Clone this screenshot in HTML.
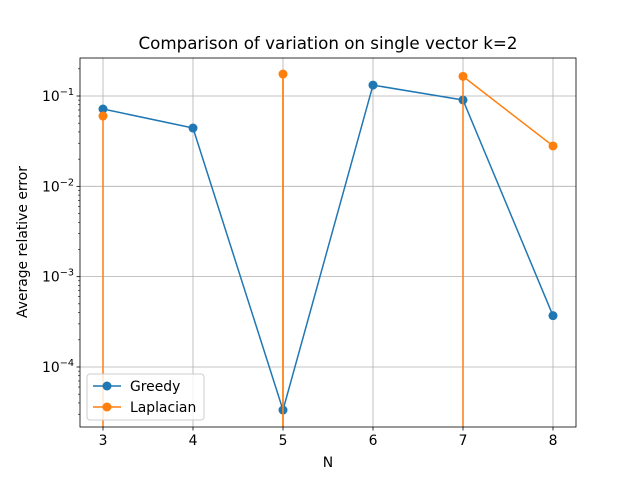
<!DOCTYPE html>
<html><head><meta charset="utf-8"><style>
html,body{margin:0;background:#fff;overflow:hidden;width:640px;height:480px;}
svg{font-family:"DejaVu Sans","Liberation Sans",sans-serif;display:block;}
</style></head><body>
<svg id="chart" width="640" height="480" viewBox="0 0 640 480">
<defs><clipPath id="clip"><rect x="80" y="58" width="496" height="369"/></clipPath></defs>
<rect width="640" height="480" fill="#fff"/>
<g id="grid"></g>
<g id="series" clip-path="url(#clip)"></g>
<g id="axes"></g>
<text x="328" y="49" font-size="16.7" text-anchor="middle">Comparison of variation on single vector k=2</text>
<text x="328" y="467" font-size="13.9" text-anchor="middle">N</text>
<text x="27" y="242" font-size="13.9" text-anchor="middle" transform="rotate(-90 27 242)">Average relative error</text>
<g>
<rect x="87" y="374" width="117" height="46" rx="3" fill="#fff" fill-opacity="0.8" stroke="#ccc"/>
<g>
<line x1="93" y1="386" x2="121" y2="386" stroke="#1f77b4" stroke-width="1.5"/><circle cx="107" cy="386" r="4.5" fill="#1f77b4"/>
<text x="130" y="391" font-size="13.9">Greedy</text></g>
<g>
<line x1="93" y1="407" x2="121" y2="407" stroke="#ff7f0e" stroke-width="1.5"/><circle cx="107" cy="407" r="4.5" fill="#ff7f0e"/>
<text x="130" y="412" font-size="13.9">Laplacian</text></g>
</g>
</svg>
<script>
const categories=[3,4,5,6,7,8];
const greedy=[0.0718,0.0442,3.34e-5,0.132,0.0903,3.7e-4];
const laplacian=[0.06,0,0.175,0,0.165,0.028];
const xTicks=[3,4,5,6,7,8];
const yTickExps=[-4,-3,-2,-1];
const NS="http://www.w3.org/2000/svg";
const L=80,R=576,T=58,B=427;
function xs(v){return 103+(v-3)*90;}
function ys(v){return 96-(Math.log10(v)+1)*90.33;}
function mk(tag,attrs,parent){const e=document.createElementNS(NS,tag);for(const k in attrs)e.setAttribute(k,attrs[k]);parent.appendChild(e);return e;}
const grid=document.getElementById('grid'),axes=document.getElementById('axes'),series=document.getElementById('series');
xTicks.forEach(t=>{const x=xs(t);
 const g=mk('line',{x1:x,x2:x,y1:T,y2:B,stroke:'#b0b0b0','stroke-width':0.8},grid);
 
 
 mk('line',{x1:x,x2:x,y1:B,y2:B+3.5,stroke:'#000','stroke-width':0.8},axes);
 const tx=mk('text',{x:x,y:B+18,'font-size':13.9,'text-anchor':'middle'},axes);tx.textContent=t;
 
 
});
yTickExps.forEach(e=>{const y=ys(Math.pow(10,e));
 const g=mk('line',{x1:L,x2:R,y1:y,y2:y,stroke:'#b0b0b0','stroke-width':0.8},grid);
 
 
 mk('line',{x1:L-3.5,x2:L,y1:y,y2:y,stroke:'#000','stroke-width':0.8},axes);
 const tx=mk('text',{x:L-6,y:y+5,'font-size':13.9,'text-anchor':'end'},axes);
 
 
 tx.appendChild(document.createTextNode('10'));
 const s=mk('tspan',{dy:-6,'font-size':9.7},tx);s.textContent='\u2212'+(-e);
});
for(let e=-5;e<=0;e++)for(let m=2;m<=9;m++){const y=ys(m*Math.pow(10,e));if(y>T&&y<B)mk('line',{x1:L-2,x2:L,y1:y,y2:y,stroke:'#000','stroke-width':0.6},axes);}
mk('rect',{x:L,y:T,width:R-L,height:B-T,fill:'none',stroke:'#000','stroke-width':0.8},axes);
function draw(vals,color,name){
 for(let i=0;i<vals.length-1;i++){
  const a=vals[i],b=vals[i+1];
  let x1,y1,x2,y2;
  if(a>0&&b>0){x1=xs(categories[i]);y1=ys(a);x2=xs(categories[i+1]);y2=ys(b);}
  else if(a>0){x1=x2=xs(categories[i]);y1=ys(a);y2=B+20;}
  else if(b>0){x1=x2=xs(categories[i+1]);y1=ys(b);y2=B+20;}
  else continue;
  const ln=mk('line',{x1:x1,y1:y1,x2:x2,y2:y2,stroke:color,'stroke-width':1.5},series);
  
  
 }
 vals.forEach((v,i)=>{if(v>0){const c=mk('circle',{cx:xs(categories[i]),cy:ys(v),r:4.5,fill:color},series);
  
  }});
}
draw(greedy,'#1f77b4','greedy');
draw(laplacian,'#ff7f0e','laplacian');
</script>
</body></html>
